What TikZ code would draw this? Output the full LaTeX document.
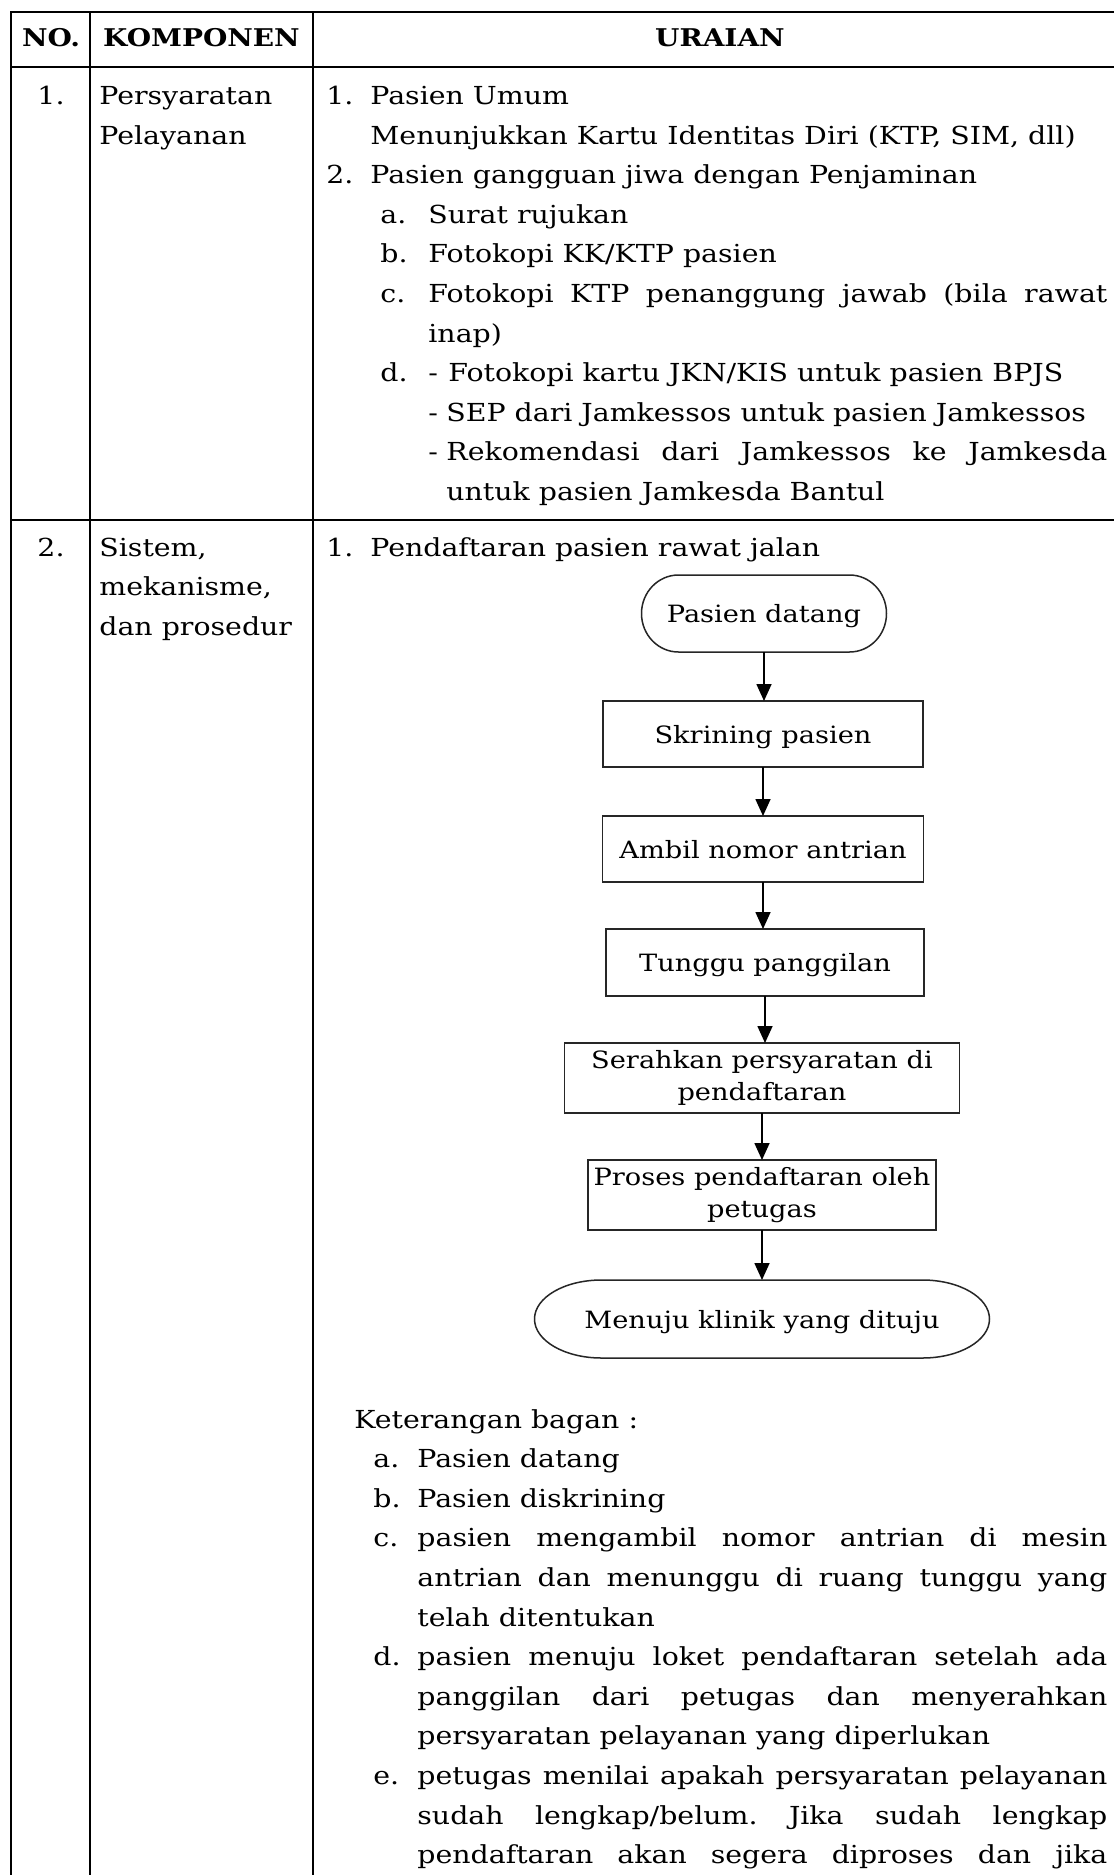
\documentclass[tikz,border=0pt]{standalone}
\usepackage{fontspec}
\setmainfont[FakeStretch=1.145]{DejaVu Serif}
\usetikzlibrary{arrows.meta}

% one justified line of the given width (in pt)
\newcommand\jline[2]{\makebox[#1][s]{#2}}
% two centred lines, lowered slightly inside their box
\newcommand\twolines[2]{\raisebox{-1.8pt}{\begin{tabular}{@{}c@{}}#1\\#2\end{tabular}}}

\begin{document}
\frenchspacing
\begin{tikzpicture}[x=0.5pt,y=-0.5pt,
  txt/.style={font=\fontsize{12.4pt}{16.5pt}\selectfont, inner sep=0pt, anchor=base west},
  ctxt/.style={txt, anchor=base},
  head/.style={font=\fontsize{12.2pt}{16.5pt}\selectfont\bfseries, inner sep=0pt, anchor=base},
  rule/.style={line width=1.3pt, black},
  boxline/.style={line width=0.75pt, black!85},
  boxbase/.style={inner sep=0pt, outer sep=0pt, font=\fontsize{11.9pt}{16pt}\selectfont},
  stepbox/.style={boxbase, draw=black!85, line width=0.75pt, rectangle,
    text height=9pt, text depth=0pt},
  stepbox2/.style={boxbase, draw=black!85, line width=0.75pt, rectangle},
  termbox/.style={boxbase, draw=none, text height=9pt, text depth=0pt},
  flow/.style={line width=0.8pt, black, -{Triangle[length=8.5pt,width=7.5pt]}}
]
\fill[white] (0,0) rectangle (1114,1875);
\useasboundingbox (0,0) rectangle (1114,1875);

% ---------- table grid ----------
\draw[rule] (10,12) -- (1114,12);
\draw[rule] (10,67) -- (1114,67);
\draw[rule] (10,520) -- (1114,520);
\draw[rule] (11,11.35) -- (11,1875);
\draw[rule] (90,12) -- (90,1875);
\draw[rule] (313,12) -- (313,1875);

% ---------- header ----------
\node[head] (hno)  at (51,46)  {NO.};
\node[head] (hkom) at (201.5,46) {KOMPONEN};
\node[head] (hura) at (720,46) {URAIAN};

% ---------- row 1 ----------
\node[ctxt] (n1) at (51,104.5) {1.};
\node[txt] (k1a) at (99,104.5) {Persyaratan};
\node[txt] (k1b) at (99,144.1) {Pelayanan};

\node[txt] (u1n)  at (326,104.5) {1.};
\node[txt] (u1t)  at (370,104.5) {Pasien Umum};
\node[txt] (u1s)  at (370,144.1) {Menunjukkan Kartu Identitas Diri (KTP, SIM, dll)};
\node[txt] (u2n)  at (326,183.7) {2.};
\node[txt] (u2t)  at (370,183.7) {Pasien gangguan jiwa dengan Penjaminan};
\node[txt] (uan)  at (380,223.3) {a.};
\node[txt] (uat)  at (428,223.3) {Surat rujukan};
\node[txt] (ubn)  at (380,262.9) {b.};
\node[txt] (ubt)  at (428,262.9) {Fotokopi KK/KTP pasien};
\node[txt] (ucn)  at (380,302.5) {c.};
\node[txt] (uct)  at (428,302.5) {\jline{339.5pt}{Fotokopi KTP penanggung jawab (bila rawat}};
\node[txt] (uct2) at (428,342.1) {inap)};
\node[txt] (udn)  at (380,381.7) {d.};
\node[txt] (ud1d) at (428,381.7) {-};
\node[txt] (ud1)  at (448,381.7) {Fotokopi kartu JKN/KIS untuk pasien BPJS};
\node[txt] (ud2d) at (428,421.3) {-};
\node[txt] (ud2)  at (446,421.3) {SEP dari Jamkessos untuk pasien Jamkessos};
\node[txt] (ud3d) at (428,460.9) {-};
\node[txt] (ud3)  at (446,460.9) {\jline{330.5pt}{Rekomendasi dari Jamkessos ke Jamkesda}};
\node[txt] (ud3b) at (446,500.5) {untuk pasien Jamkesda Bantul};

% ---------- row 2 ----------
\node[ctxt] (n2) at (51,556) {2.};
\node[txt] (k2a) at (99,556)   {Sistem,};
\node[txt] (k2b) at (99,595.6) {mekanisme,};
\node[txt] (k2c) at (99,635.2) {dan prosedur};

\node[txt] (p1n) at (326,556) {1.};
\node[txt] (p1t) at (370,556) {Pendaftaran pasien rawat jalan};

% ---------- flowchart ----------
\node[termbox, minimum width=122.5pt, minimum height=38.5pt] (start) at (764,613.5) {Pasien datang};
\draw[boxline] ([xshift=18.5pt]start.north west) -- ([xshift=-18.5pt]start.north east)
  arc[start angle=90, end angle=-90, x radius=18.5pt, y radius=19.25pt]
  -- ([xshift=18.5pt]start.south west)
  arc[start angle=270, end angle=90, x radius=18.5pt, y radius=19.25pt] -- cycle;

\node[stepbox, minimum width=160pt, minimum height=33pt] (skr) at (763,734) {Skrining pasien};
\node[stepbox, minimum width=160.5pt, minimum height=33pt] (amb) at (763,849) {Ambil nomor antrian};
\node[stepbox, minimum width=159pt, minimum height=33.5pt] (tun) at (765,962.5) {Tunggu panggilan};
\node[stepbox2, minimum width=197.5pt, minimum height=35pt] (ser) at (762,1078)
  {\twolines{Serahkan persyaratan di}{pendaftaran}};
\node[stepbox2, minimum width=174pt, minimum height=35pt] (pro) at (762,1195)
  {\twolines{Proses pendaftaran oleh}{petugas}};

\node[termbox, minimum width=227.5pt, minimum height=39pt] (fin) at (762,1319) {Menuju klinik yang dituju};
\draw[boxline] ([xshift=33.5pt]fin.north west) -- ([xshift=-33.5pt]fin.north east)
  arc[start angle=90, end angle=-90, x radius=33.5pt, y radius=19.5pt]
  -- ([xshift=33.5pt]fin.south west)
  arc[start angle=270, end angle=90, x radius=33.5pt, y radius=19.5pt] -- cycle;

\draw[flow] (start.south) -- (start.south |- skr.north);
\draw[flow] (skr.south) -- (skr.south |- amb.north);
\draw[flow] (amb.south) -- (amb.south |- tun.north);
\draw[flow] (tun.south) -- (tun.south |- ser.north);
\draw[flow] (ser.south) -- (ser.south |- pro.north);
\draw[flow] (pro.south) -- (pro.south |- fin.north);

% ---------- legend of the chart ----------
\node[txt] (kt)  at (354,1428)   {Keterangan bagan :};
\node[txt] (kan) at (373,1467.6) {a.};
\node[txt] (kat) at (417,1467.6) {Pasien datang};
\node[txt] (kbn) at (373,1507.2) {b.};
\node[txt] (kbt) at (417,1507.2) {Pasien diskrining};
\node[txt] (kcn) at (373,1546.8) {c.};
\node[txt] (kc1) at (417,1546.8) {\jline{345pt}{pasien mengambil nomor antrian di mesin}};
\node[txt] (kc2) at (417,1586.4) {\jline{345pt}{antrian dan menunggu di ruang tunggu yang}};
\node[txt] (kc3) at (417,1626)   {telah ditentukan};
\node[txt] (kdn) at (373,1665.6) {d.};
\node[txt] (kd1) at (417,1665.6) {\jline{345pt}{pasien menuju loket pendaftaran setelah ada}};
\node[txt] (kd2) at (417,1705.2) {\jline{345pt}{panggilan dari petugas dan menyerahkan}};
\node[txt] (kd3) at (417,1744.8) {persyaratan pelayanan yang diperlukan};
\node[txt] (ken) at (373,1784.4) {e.};
\node[txt] (ke1) at (417,1784.4) {\jline{345pt}{petugas menilai apakah persyaratan pelayanan}};
\node[txt] (ke2) at (417,1824)   {\jline{345pt}{sudah lengkap/belum. Jika sudah lengkap}};
\node[txt] (ke3) at (417,1863.6) {\jline{345pt}{pendaftaran akan segera diproses dan jika}};
\end{tikzpicture}
\end{document}
